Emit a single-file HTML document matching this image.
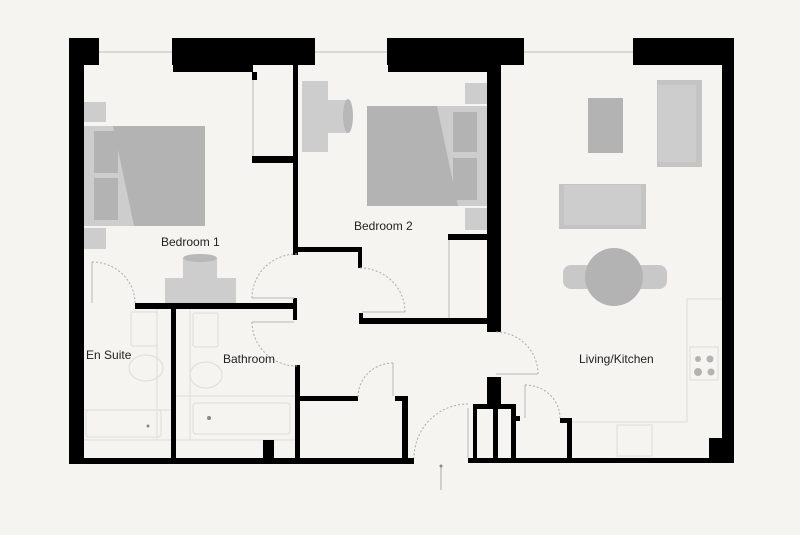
<!DOCTYPE html>
<html><head><meta charset="utf-8"><style>
html,body{margin:0;padding:0;background:#f5f4f0}
svg{display:block}
text{font-family:"Liberation Sans",sans-serif;font-size:12px;fill:#222}
</style></head><body>
<svg width="800" height="535" viewBox="0 0 800 535" xmlns="http://www.w3.org/2000/svg">
<rect width="800" height="535" fill="#f5f4f0"/>
<!-- windows -->
<g stroke="#cfcfcb" stroke-width="1.5">
<line x1="99" y1="52" x2="172" y2="52"/><line x1="315" y1="52" x2="387" y2="52"/><line x1="524" y1="52" x2="633" y2="52"/>
</g>
<!-- furniture -->
<g fill="#cdcdcd">
<rect x="84" y="102" width="22" height="20"/><rect x="84" y="228" width="22" height="21"/>
<rect x="84" y="126" width="121" height="100"/>
<rect x="165" y="278" width="71" height="25"/><rect x="183" y="258" width="34" height="22"/>
<ellipse cx="200" cy="258" rx="17" ry="4" fill="#b8b8b8"/>
<rect x="302" y="81" width="26" height="71"/><rect x="328" y="100" width="20" height="33"/>
<ellipse cx="348" cy="116" rx="5" ry="17" fill="#b8b8b8"/>
<rect x="465" y="83" width="22" height="21"/><rect x="465" y="208" width="22" height="22"/>
<rect x="367" y="106" width="120" height="100"/>
<rect x="657" y="80" width="45" height="87" fill="#c4c4c4"/><rect x="658" y="85" width="38" height="77"/>
<rect x="559" y="184" width="87" height="45" fill="#c4c4c4"/><rect x="564" y="185" width="77" height="40"/>
<rect x="563" y="265" width="104" height="24" rx="8" fill="#c8c8c8"/>
</g>
<g fill="#b3b3b3">
<polygon points="113,126 205,126 205,226 134,226"/>
<rect x="94" y="131" width="24" height="42"/><rect x="94" y="178" width="24" height="42"/>
<polygon points="367,106 437,106 458,206 367,206"/>
<rect x="453" y="112" width="24" height="40"/><rect x="453" y="158" width="24" height="42"/>
<rect x="588" y="98" width="35" height="55"/>
<circle cx="614" cy="277" r="29"/>
</g>
<!-- fixtures outlines -->
<g fill="none" stroke="#dcdcd8" stroke-width="1">
<rect x="131" y="312" width="26" height="34" rx="2"/><ellipse cx="146" cy="368" rx="17" ry="13"/>
<rect x="86" y="410" width="75" height="27" rx="3"/>
<rect x="193" y="313" width="25" height="34" rx="2"/><ellipse cx="206" cy="375" rx="16" ry="13"/>
<rect x="193" y="403" width="97" height="31" rx="3"/>
<line x1="84" y1="410" x2="171" y2="410"/><line x1="84" y1="440" x2="171" y2="440"/>
<line x1="176" y1="396" x2="296" y2="396"/><line x1="176" y1="440" x2="296" y2="440"/>
<line x1="157" y1="309" x2="157" y2="440"/><line x1="190" y1="309" x2="190" y2="440"/>
<polyline points="687,422 687,299 722,299"/><polyline points="572,422 687,422"/>
<rect x="690" y="347" width="28" height="33"/><rect x="617" y="425" width="35" height="31"/>
</g>
<g fill="#b3b3b3"><circle cx="698" cy="359" r="3"/><circle cx="710" cy="359" r="3.5"/><circle cx="698" cy="372" r="4"/><circle cx="711" cy="372" r="3.5"/><circle cx="148" cy="426" r="1.5" fill="#888"/><circle cx="209" cy="418" r="2" fill="#888"/></g>
<!-- walls -->
<g fill="#000">
<rect x="69" y="38" width="15" height="426"/><rect x="69" y="38" width="30" height="27"/>
<rect x="172" y="38" width="143" height="27"/><rect x="173" y="60" width="80" height="12"/>
<rect x="387" y="38" width="137" height="27"/><rect x="388" y="60" width="100" height="12"/>
<rect x="487" y="60" width="14" height="272"/>
<rect x="633" y="38" width="101" height="27"/><rect x="722" y="38" width="12" height="424"/>
<rect x="709" y="438" width="25" height="24"/>
<rect x="69" y="458" width="345" height="6"/><rect x="468" y="458" width="266" height="5"/>
<rect x="252" y="72" width="5" height="8"/><rect x="252" y="156" width="43" height="7"/>
<rect x="293" y="65" width="5" height="190"/>
<rect x="293" y="247" width="69" height="5"/><rect x="358" y="247" width="4" height="21"/>
<rect x="135" y="303" width="162" height="6"/><rect x="293" y="298" width="4" height="22"/>
<rect x="171" y="309" width="5" height="150"/>
<rect x="359" y="318" width="130" height="6"/><rect x="359" y="313" width="4" height="11"/>
<rect x="448" y="234" width="40" height="6"/>
<rect x="295" y="365" width="5" height="94"/><rect x="298" y="396" width="60" height="5"/>
<rect x="402" y="397" width="6" height="62"/><rect x="395" y="396" width="13" height="5"/>
<rect x="263" y="440" width="11" height="19"/>
<rect x="487" y="377" width="14" height="30"/>
<rect x="473" y="404" width="43" height="5"/>
<rect x="473" y="404" width="4" height="55"/><rect x="493" y="404" width="5" height="55"/><rect x="511" y="404" width="5" height="55"/>
<rect x="516" y="416" width="4" height="5"/>
<rect x="567" y="418" width="5" height="41"/><rect x="560" y="418" width="12" height="5"/>
</g>
<!-- doors -->
<g fill="none" stroke="#aaa" stroke-width="1">
<line x1="92" y1="262" x2="92" y2="303" stroke-width="1.5" stroke="#ccc"/>
<line x1="252" y1="298" x2="294" y2="298" stroke-width="1.5" stroke="#ccc"/>
<line x1="252" y1="322" x2="294" y2="322" stroke-width="1.5" stroke="#ccc"/>
<line x1="362" y1="312" x2="405" y2="312" stroke-width="1.5" stroke="#ccc"/>
<line x1="449" y1="240" x2="449" y2="318" stroke-width="1.5" stroke="#ccc"/>
<line x1="253" y1="80" x2="253" y2="156" stroke-width="1.5" stroke="#ccc"/>
<line x1="393" y1="363" x2="393" y2="396" stroke-width="1.5" stroke="#ccc"/>
<line x1="496" y1="374" x2="538" y2="374" stroke-width="1.5" stroke="#ccc"/>
<line x1="468" y1="408" x2="468" y2="458" stroke-width="1.5" stroke="#ccc"/>
<line x1="525" y1="385" x2="525" y2="418" stroke-width="1.5" stroke="#ccc"/>
<g stroke-dasharray="2,2">
<path d="M92,262 A43,41 0 0 1 135,303"/>
<path d="M297,254 A45,44 0 0 0 252,298"/>
<path d="M252,322 A45,44 0 0 0 297,366"/>
<path d="M360,268 A45,44 0 0 1 405,312"/>
<path d="M393,363 A35,34 0 0 0 358,397"/>
<path d="M496,332 A42,42 0 0 1 538,374"/>
<path d="M468,404 A54,54 0 0 0 414,458"/>
<path d="M525,385 A35,33 0 0 1 560,418"/>
</g>
<line x1="441" y1="466" x2="441" y2="490"/>
</g>
<circle cx="441" cy="466" r="1.5" fill="#888"/>
<text x="161" y="246">Bedroom 1</text>
<text x="354" y="230">Bedroom 2</text>
<text x="86" y="359">En Suite</text>
<text x="223" y="363">Bathroom</text>
<text x="579" y="363">Living/Kitchen</text>
</svg>
</body></html>
